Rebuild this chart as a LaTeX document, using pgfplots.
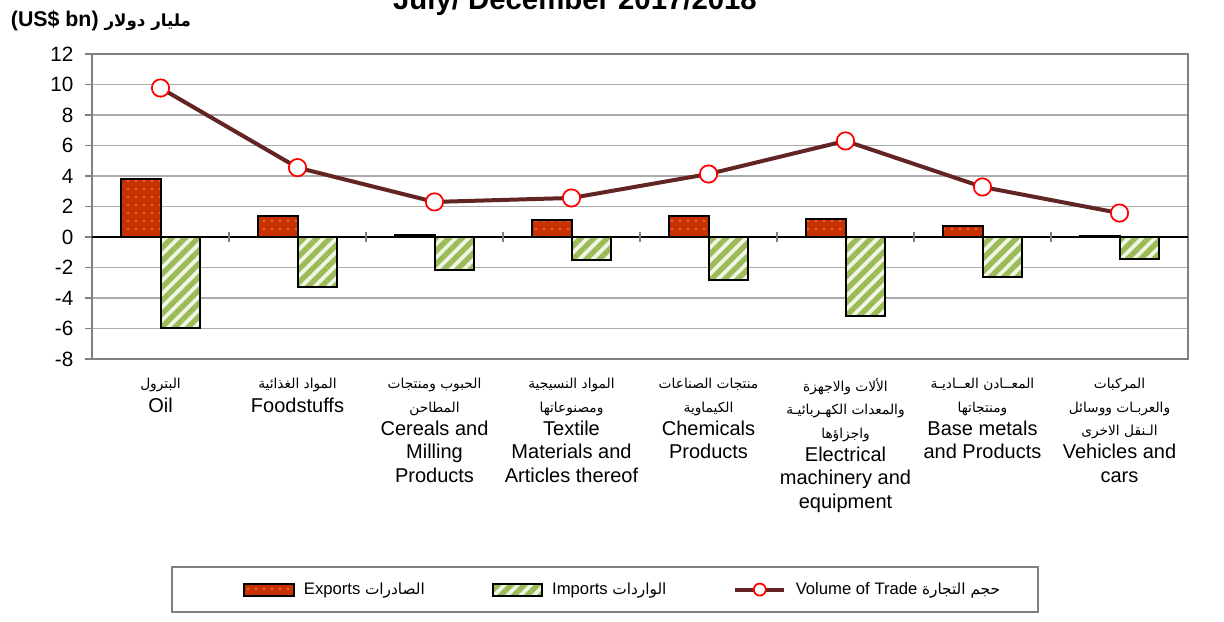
\documentclass[border=0pt]{standalone}
\usepackage{pgfplots}
\pgfplotsset{compat=1.18}
\usepackage{fontspec}
\setmainfont{Liberation Sans}
\newfontfamily\ar[Script=Arabic]{DejaVu Sans}
\usetikzlibrary{patterns.meta}
\TeXXeTstate=1
\definecolor{expc}{HTML}{C83200}
\definecolor{dotc}{HTML}{E8804F}
\definecolor{impc}{HTML}{9BBB59}
\definecolor{impbg}{HTML}{F0F5E4}
\definecolor{volc}{HTML}{632523}
\definecolor{gridc}{HTML}{ABABAB}
\definecolor{framec}{HTML}{808080}
\newcommand{\arf}{\ar\fontsize{10.3}{17.5}\selectfont}
\newcommand{\arl}{\ar\fontsize{11.5}{14}\selectfont}
\pgfplotsset{
  barleg/.style={legend image code/.code={\draw[##1] (0pt,-4.5pt) rectangle (37pt,4.5pt);}},
  lineleg/.style={legend image code/.code={\draw[mark repeat=2,mark phase=2,##1,mark size=4.5pt] plot coordinates {(0pt,0pt) (18.5pt,0pt) (37pt,0pt)};}},
}
\begin{document}
\begin{tikzpicture}
\begin{axis}[
  at={(69pt,196.5pt)}, anchor=south west,
  width=822pt, height=228.75pt, scale only axis,
  xmin=-0.5, xmax=7.5, ymin=-8, ymax=12,
  xtick={0,...,7}, ytick={-8,-6,...,12},
  xtick style={draw=none},
  ytick pos=left, tick align=outside,
  major tick length=5pt,
  ytick style={draw=framec, line width=0.8pt},
  axis line style={draw=framec, line width=1.6pt},
  ymajorgrids, grid style={draw=gridc, line width=0.9pt},
  /pgf/number format/assume math mode=true,
  yticklabel style={font=\fontsize{15.5}{18}\selectfont, xshift=-5.5pt},
  xticklabel style={align=center, font=\fontsize{15}{17.5}\selectfont, anchor=north, yshift=-6pt},
  xticklabels={
    {{\arf\beginR البترول\endR}\\Oil},
    {{\arf\beginR المواد الغذائية\endR}\\Foodstuffs},
    {{\arf\beginR الحبوب ومنتجات\endR}\\{\arf\beginR المطاحن\endR}\\Cereals and\\Milling\\Products},
    {{\arf\beginR المواد النسيجية\endR}\\{\arf\beginR ومصنوعاتها\endR}\\Textile\\Materials and\\Articles thereof},
    {{\arf\beginR منتجات الصناعات\endR}\\{\arf\beginR الكيماوية\endR}\\Chemicals\\Products},
    {{\arf\beginR الألات والاجهزة\endR}\\{\arf\beginR والمعدات الكهـربائيـة\endR}\\{\arf\beginR واجزاؤها\endR}\\Electrical\\machinery and\\equipment},
    {{\arf\beginR المعــادن العــاديـة\endR}\\{\arf\beginR ومنتجاتها\endR}\\Base metals\\and Products},
    {{\arf\beginR المركبات\endR}\\{\arf\beginR والعربـات ووسائل\endR}\\{\arf\beginR الـنقل الاخرى\endR}\\Vehicles and\\cars}
  },
  legend columns=3,
  legend style={at={(0.4845,-0.756)}, anchor=center, draw=none, fill=none,
    font=\fontsize{12.5}{14}\selectfont,
    /tikz/every odd column/.append style={column sep=5pt},
    /tikz/every even column/.append style={column sep=48pt}},
]
\addplot[ybar, bar width=0.285, bar shift=-0.1425, draw=black, line width=1.5pt,
  fill=expc, postaction={pattern={Dots[radius=0.9pt,distance=6pt]}, pattern color=dotc}, barleg]
  coordinates {(0,3.8) (1,1.38) (2,0.1) (3,1.1) (4,1.38) (5,1.18) (6,0.72) (7,0.08)};
\addlegendentry{Exports {\arl\beginR الصادرات\endR}}
\addplot[ybar, bar width=0.285, bar shift=0.1425, draw=black, line width=1.5pt,
  fill=impbg, postaction={pattern={Lines[angle=45,distance=7pt,line width=4pt]}, pattern color=impc}, barleg]
  coordinates {(0,-6.0) (1,-3.28) (2,-2.16) (3,-1.5) (4,-2.8) (5,-5.18) (6,-2.6) (7,-1.44)};
\addlegendentry{Imports {\arl\beginR الواردات\endR}}
\draw[black, line width=1pt] (axis cs:-0.5,0) -- (axis cs:7.5,0);
\draw[framec, line width=0.8pt] (axis cs:0.5,-0.33) -- (axis cs:0.5,0.33);
\draw[framec, line width=0.8pt] (axis cs:1.5,-0.33) -- (axis cs:1.5,0.33);
\draw[framec, line width=0.8pt] (axis cs:2.5,-0.33) -- (axis cs:2.5,0.33);
\draw[framec, line width=0.8pt] (axis cs:3.5,-0.33) -- (axis cs:3.5,0.33);
\draw[framec, line width=0.8pt] (axis cs:4.5,-0.33) -- (axis cs:4.5,0.33);
\draw[framec, line width=0.8pt] (axis cs:5.5,-0.33) -- (axis cs:5.5,0.33);
\draw[framec, line width=0.8pt] (axis cs:6.5,-0.33) -- (axis cs:6.5,0.33);
\addplot[color=volc, line width=3pt, mark=*, mark size=6.5pt,
  mark options={fill=white, draw=red, line width=1.3pt}, lineleg]
  coordinates {(0,9.77) (1,4.55) (2,2.3) (3,2.56) (4,4.13) (5,6.3) (6,3.28) (7,1.57)};
\addlegendentry{Volume of Trade {\arl\beginR حجم التجارة\endR}}
\end{axis}
\node[anchor=base, font=\bfseries\fontsize{22}{26}\selectfont] at (431.25pt,458.25pt) {July/ December 2017/2018};
\node[anchor=base west, inner sep=0pt, font=\bfseries\fontsize{16}{18}\selectfont] at (8pt,445.5pt)
  {(US\$ bn) {\ar\fontsize{12.5}{14}\selectfont\beginR مليار دولار\endR}};
\draw[framec, line width=0.8pt] (129pt,6.75pt) rectangle (778.5pt,40.5pt);
\pgfresetboundingbox
\path[use as bounding box] (0,0) rectangle (918pt,465.75pt);
\end{tikzpicture}
\end{document}
